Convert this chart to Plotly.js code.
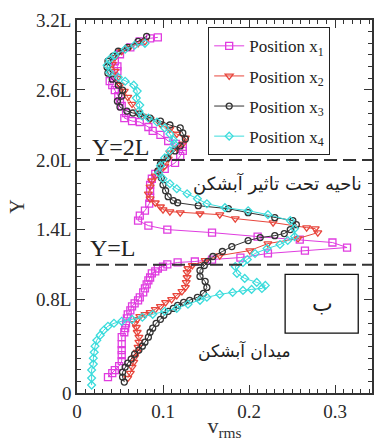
<!DOCTYPE html>
<html>
<head>
<meta charset="utf-8">
<script src="https://cdn.plot.ly/plotly-3.0.1.min.js"></script>
<style>html,body{margin:0;padding:0;background:#fff;}#chart{width:383px;height:441px;}</style>
</head>
<body>
<div id="chart"></div>
<script>
// Series names
const seriesNames = ['Position x<sub>1</sub>', 'Position x<sub>2</sub>', 'Position x<sub>3</sub>', 'Position x<sub>4</sub>'];

// Position x1 (magenta squares): v_rms and Y (in units of L)
const v1 = [0.036,0.041,0.044,0.049,0.052,0.052,0.052,0.052,0.052,0.055,0.056,0.057,0.058,0.059,0.062,0.064,0.067,0.071,0.073,0.077,0.079,0.081,0.083,0.085,0.087,0.091,0.094,0.100,0.105,0.117,0.137,0.157,0.190,0.222,0.265,0.314,0.297,0.259,0.210,0.157,0.105,0.083,0.071,0.073,0.079,0.084,0.085,0.085,0.085,0.087,0.091,0.102,0.114,0.120,0.123,0.123,0.115,0.106,0.097,0.088,0.083,0.073,0.064,0.055,0.057,0.052,0.050,0.048,0.044,0.041,0.038,0.043,0.047,0.047,0.044,0.050,0.062,0.073,0.085,0.094];
const y1 = [0.137,0.171,0.197,0.231,0.274,0.325,0.368,0.419,0.479,0.521,0.556,0.598,0.641,0.675,0.709,0.744,0.769,0.795,0.821,0.863,0.897,0.932,0.966,0.991,1.026,1.043,1.068,1.085,1.103,1.120,1.128,1.145,1.162,1.197,1.222,1.248,1.291,1.316,1.342,1.376,1.402,1.436,1.479,1.521,1.564,1.624,1.675,1.735,1.786,1.838,1.880,1.923,1.974,2.034,2.077,2.111,2.137,2.162,2.214,2.248,2.282,2.325,2.333,2.359,2.402,2.462,2.504,2.547,2.598,2.641,2.675,2.718,2.761,2.803,2.846,2.906,2.966,3.017,3.043,3.051];

// Position x2 (red triangles)
const v2 = [0.059,0.062,0.064,0.066,0.067,0.070,0.071,0.072,0.072,0.070,0.069,0.067,0.070,0.073,0.079,0.085,0.091,0.097,0.103,0.110,0.116,0.122,0.126,0.127,0.128,0.128,0.129,0.134,0.149,0.166,0.201,0.222,0.257,0.280,0.277,0.267,0.228,0.184,0.166,0.143,0.120,0.108,0.100,0.097,0.091,0.085,0.083,0.085,0.087,0.091,0.097,0.102,0.106,0.108,0.116,0.123,0.126,0.116,0.108,0.097,0.085,0.076,0.071,0.064,0.059,0.055,0.050,0.047,0.044,0.041,0.044,0.052,0.062,0.071,0.079];
const y2 = [0.128,0.171,0.222,0.265,0.308,0.350,0.393,0.436,0.479,0.521,0.564,0.598,0.632,0.658,0.675,0.692,0.718,0.744,0.778,0.803,0.838,0.872,0.906,0.949,0.991,1.034,1.068,1.094,1.137,1.179,1.222,1.282,1.325,1.376,1.410,1.419,1.462,1.496,1.530,1.538,1.547,1.556,1.573,1.598,1.632,1.667,1.709,1.769,1.821,1.863,1.906,1.949,2.009,2.060,2.103,2.137,2.188,2.222,2.265,2.308,2.350,2.376,2.402,2.479,2.538,2.590,2.641,2.701,2.761,2.821,2.880,2.932,2.974,3.000,3.017];

// Position x3 (black circles)
const v3 = [0.055,0.053,0.053,0.056,0.059,0.063,0.067,0.072,0.076,0.079,0.083,0.085,0.088,0.092,0.097,0.101,0.106,0.112,0.117,0.124,0.131,0.140,0.147,0.151,0.149,0.143,0.143,0.148,0.152,0.158,0.169,0.180,0.199,0.213,0.230,0.241,0.248,0.255,0.251,0.230,0.199,0.176,0.141,0.117,0.112,0.106,0.103,0.100,0.098,0.094,0.097,0.105,0.114,0.120,0.126,0.123,0.120,0.108,0.097,0.085,0.073,0.065,0.058,0.050,0.047,0.052,0.053,0.048,0.041,0.036,0.035,0.036,0.042,0.048,0.059,0.071,0.081];
const y3 = [0.094,0.137,0.179,0.222,0.256,0.291,0.333,0.368,0.402,0.436,0.479,0.521,0.556,0.598,0.632,0.667,0.701,0.726,0.752,0.778,0.795,0.821,0.855,0.906,0.957,1.000,1.051,1.094,1.128,1.171,1.214,1.256,1.308,1.333,1.350,1.368,1.402,1.444,1.479,1.504,1.547,1.581,1.607,1.632,1.650,1.684,1.735,1.786,1.846,1.906,1.966,2.017,2.077,2.120,2.179,2.231,2.274,2.299,2.333,2.359,2.393,2.402,2.419,2.453,2.504,2.547,2.598,2.641,2.692,2.744,2.795,2.846,2.889,2.932,2.966,3.017,3.060];

// Position x4 (cyan)
const v4 = [0.017,0.017,0.017,0.019,0.019,0.020,0.021,0.023,0.027,0.031,0.036,0.043,0.052,0.064,0.076,0.088,0.102,0.116,0.129,0.143,0.151,0.166,0.181,0.193,0.203,0.215,0.219,0.209,0.195,0.186,0.184,0.193,0.198,0.207,0.221,0.236,0.245,0.253,0.253,0.248,0.222,0.199,0.172,0.151,0.140,0.128,0.116,0.108,0.100,0.095,0.097,0.102,0.108,0.113,0.112,0.108,0.102,0.093,0.083,0.076,0.072,0.073,0.069,0.070,0.066,0.056,0.048,0.038,0.035,0.038,0.044,0.056,0.067,0.079];
const y4 = [0.068,0.128,0.197,0.248,0.299,0.350,0.402,0.453,0.496,0.538,0.573,0.598,0.615,0.632,0.650,0.675,0.701,0.726,0.761,0.795,0.821,0.846,0.863,0.880,0.889,0.897,0.923,0.949,0.983,1.026,1.085,1.120,1.145,1.197,1.239,1.274,1.308,1.342,1.410,1.479,1.530,1.564,1.590,1.624,1.667,1.709,1.752,1.795,1.838,1.889,1.949,2.017,2.077,2.137,2.171,2.222,2.274,2.325,2.359,2.376,2.419,2.470,2.530,2.590,2.641,2.675,2.709,2.752,2.812,2.863,2.897,2.949,2.983,3.000];

// Axis ticks
const xTickVals = [0, 0.1, 0.2, 0.3];
const xTickText = ['0', '0.1', '0.2', '0.3'];
const yTickVals = [0, 0.8, 1.4, 2.0, 2.6, 3.2];
const yTickText = ['0', '0.8L', '1.4L', '2.0L', '2.6L', '3.2L'];

// Reference levels (dashed lines)
const refLevels = [2.0, 1.1];

const colors = ['#e03ce0', '#e8463c', '#333333', '#3cdcdc'];
const symbols = ['square-open', 'triangle-down-open', 'circle-open', 'diamond-open'];
const sizes = [7, 7, 6, 6];
const xs = [v1, v2, v3, v4];
const ys = [y1, y2, y3, y4];

const traces = xs.map((x, i) => ({
  x: x, y: ys[i], type: 'scatter', mode: 'lines+markers',
  name: seriesNames[i], legendgroup: 'g' + i,
  line: {color: colors[i], width: 1},
  marker: {symbol: symbols[i], size: sizes[i], color: colors[i], line: {color: colors[i], width: 1.3}}
}));

const serif = 'Liberation Serif, Times New Roman, serif';
const axisCommon = {
  ticks: 'inside', ticklen: 8, tickwidth: 1.3, tickcolor: '#333',
  showline: true, linecolor: '#333', linewidth: 1.5, mirror: 'allticks',
  showgrid: false, zeroline: false, tickfont: {family: serif, size: 19, color: '#2a2a2a'}
};

const layout = {
  width: 383, height: 441,
  margin: {l: 77, r: 11, t: 20, b: 48},
  paper_bgcolor: '#fff', plot_bgcolor: '#fff',
  font: {family: serif, color: '#333'},
  showlegend: true,
  legend: {
    x: 0.444, y: 0.981, xanchor: 'left', yanchor: 'top',
    bgcolor: '#fff', bordercolor: '#222', borderwidth: 1.2,
    font: {family: serif, size: 17, color: '#222'}, tracegroupgap: 5
  },
  xaxis: Object.assign({}, axisCommon, {
    range: [0, 0.343], tickmode: 'array', tickvals: xTickVals, ticktext: xTickText,
    minor: {tickmode: 'linear', tick0: 0, dtick: 0.01, ticks: 'inside', ticklen: 4, tickcolor: '#333', tickwidth: 1},
    title: {text: 'v<sub>rms</sub>', font: {family: serif, size: 22, color: '#333'}, standoff: 3}
  }),
  yaxis: Object.assign({}, axisCommon, {
    range: [0, 3.2], tickmode: 'array', tickvals: yTickVals, ticktext: yTickText,
    minor: {tickmode: 'linear', tick0: 0, dtick: 0.1, ticks: 'inside', ticklen: 4, tickcolor: '#333', tickwidth: 1},
    title: {text: 'Y', font: {family: serif, size: 20, color: '#333'}, standoff: 6}
  }),
  shapes: refLevels.map(v => ({
    type: 'line', xref: 'paper', x0: 0, x1: 1, yref: 'y', y0: v, y1: v,
    line: {color: '#333', width: 2, dash: '13px,6px'}
  })).concat([{
    type: 'rect', xref: 'x', yref: 'y', x0: 0.242, x1: 0.327, y0: 0.513, y1: 1.017,
    line: {color: '#111', width: 1.3}, fillcolor: 'rgba(0,0,0,0)'
  }]),
  annotations: [
    {x: 0.051, y: 2.11, xref: 'x', yref: 'y', text: 'Y=2L', showarrow: false, font: {family: serif, size: 24, color: '#222'}},
    {x: 0.042, y: 1.24, xref: 'x', yref: 'y', text: 'Y=L', showarrow: false, font: {family: serif, size: 24, color: '#222'}},
    {x: 0.2326, y: 1.795, xref: 'x', yref: 'y', text: 'ناحیه تحت تاثیر آبشکن', showarrow: false, font: {family: 'DejaVu Sans, sans-serif', size: 18, color: '#222'}},
    {x: 0.285, y: 0.77, xref: 'x', yref: 'y', text: 'ب', showarrow: false, font: {family: 'DejaVu Sans, sans-serif', size: 22, color: '#222'}},
    {x: 0.195, y: 0.368, xref: 'x', yref: 'y', text: 'میدان آبشکن', showarrow: false, font: {family: 'DejaVu Sans, sans-serif', size: 17, color: '#222'}}
  ]
};

Plotly.newPlot('chart', traces, layout, {displayModeBar: false, responsive: false});
</script>
</body>
</html>
